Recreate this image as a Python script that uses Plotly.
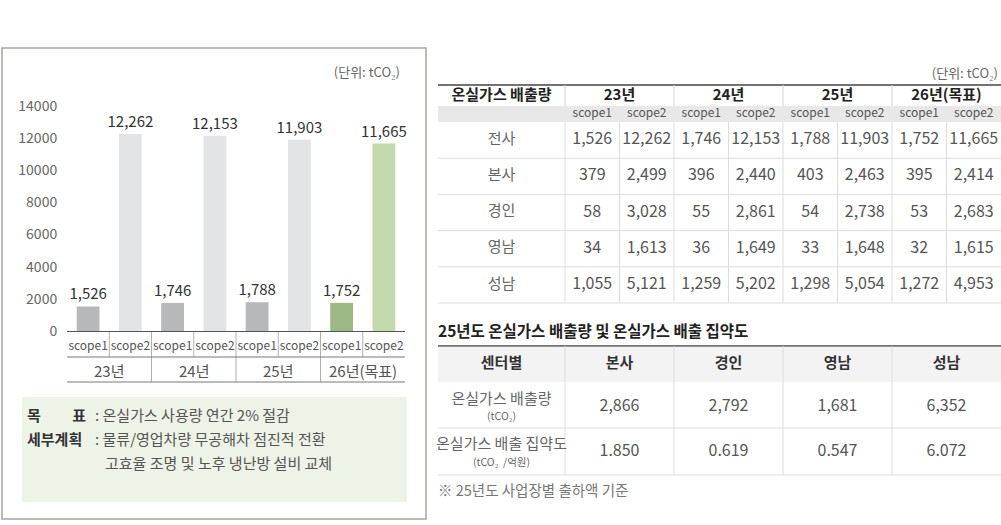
import plotly.graph_objects as go

# ---------------- data ----------------
years = ["23년", "24년", "25년", "26년(목표)"]
scopes = ["scope1", "scope2"]
scope1_total = [1526, 1746, 1788, 1752]
scope2_total = [12262, 12153, 11903, 11665]
y_ticks = [0, 2000, 4000, 6000, 8000, 10000, 12000, 14000]
unit_label = "(단위: tCO₂)"

goal_head = ["목", "표"]
plan_head = "세부계획"
goal_text = ": 온실가스 사용량 연간 2% 절감"
plan_text_1 = ": 물류/영업차량 무공해차 점진적 전환"
plan_text_2 = "고효율 조명 및 노후 냉난방 설비 교체"

t1_header = "온실가스 배출량"
sites = ["전사", "본사", "경인", "영남", "성남"]
row_jeonsa = [1526, 12262, 1746, 12153, 1788, 11903, 1752, 11665]
row_bonsa = [379, 2499, 396, 2440, 403, 2463, 395, 2414]
row_gyeongin = [58, 3028, 55, 2861, 54, 2738, 53, 2683]
row_yeongnam = [34, 1613, 36, 1649, 33, 1648, 32, 1615]
row_seongnam = [1055, 5121, 1259, 5202, 1298, 5054, 1272, 4953]

t2_title = "25년도 온실가스 배출량 및 온실가스 배출 집약도"
t2_corner = "센터별"
centers = ["본사", "경인", "영남", "성남"]
t2_rows = ["온실가스 배출량", "온실가스 배출 집약도"]
t2_units = ["(tCO₂)", "(tCO₂  /억원)"]
emission_25 = [2866, 2792, 1681, 6352]
intensity_25 = [1.850, 0.619, 0.547, 6.072]
note = "※ 25년도 사업장별 출하액 기준"

# ---------------- layout constants ----------------
W, H = 1001, 525
FONT = "Noto Sans CJK KR"

s1_colors = ["#b7b8ba", "#b7b8ba", "#b7b8ba", "#9dba86"]
s2_colors = ["#e3e4e6", "#e3e4e6", "#e3e4e6", "#c4d9ab"]

fig = go.Figure()

cats = [f"{y} {s}" for y in years for s in scopes]

for sc, vals, cols in [(scopes[0], scope1_total, s1_colors), (scopes[1], scope2_total, s2_colors)]:
    fig.add_trace(go.Bar(
        x=[f"{y} {sc}" for y in years], y=vals,
        marker=dict(color=cols, line=dict(width=0)), width=0.54,
        texttemplate="%{y:,}", textposition="outside", constraintext="none",
        textfont=dict(family=FONT, size=15, color="#333333"),
        cliponaxis=False, hoverinfo="skip", xaxis="x", yaxis="y"))


def add_text(xs, ys, texts, size, color, pos="middle center", weight="normal"):
    fig.add_trace(go.Scatter(
        x=xs, y=ys, text=texts, mode="text", textposition=pos,
        textfont=dict(family=FONT, size=size, color=color, weight=weight),
        hoverinfo="skip", showlegend=False, cliponaxis=False,
        xaxis="x2", yaxis="y2"))


shapes = []


def hline(x0, x1, y, color, width=1, xref="x2"):
    shapes.append(dict(type="line", xref=xref, yref="y2", x0=x0, x1=x1, y0=y, y1=y,
                       line=dict(color=color, width=width), layer="below"))


def vline(x, y0, y1, color, width=1, xref="x2"):
    shapes.append(dict(type="line", xref=xref, yref="y2", x0=x, x1=x, y0=y0, y1=y1,
                       line=dict(color=color, width=width), layer="below"))


def rect(x0, x1, y0, y1, fill, line_color=None, lw=0):
    shapes.append(dict(type="rect", xref="x2", yref="y2", x0=x0, x1=x1, y0=y0, y1=y1,
                       fillcolor=fill, line=dict(color=line_color or fill, width=lw),
                       layer="below"))


# ---------------- left panel ----------------
rect(2, 426, 48, 519, "rgba(0,0,0,0)", "#a3a89b", 1.5)
rect(22, 407, 397, 502, "#eef3e8")

n_cat = len(cats)
for i in range(n_cat - 1):
    vline(i + 0.5, 331, 357, "#b0b0b0", xref="x")
for k in range(1, len(years)):
    vline(2 * k - 0.5, 357, 382, "#b0b0b0", xref="x")
hline(-0.5, n_cat - 0.5, 357, "#777777", xref="x")
hline(-0.5, n_cat - 0.5, 382, "#777777", xref="x")

annotations = []
for k, yl in enumerate(years):
    annotations.append(dict(x=2 * k + 0.5, y=370, xref="x", yref="y2", text=yl,
                            showarrow=False, font=dict(family=FONT, size=15, color="#555555")))

add_text([400], [74], [unit_label], 13, "#666666", pos="middle left")

add_text([27], [417], [goal_head[0]], 15, "#333333", pos="middle right", weight="bold")
add_text([86], [417], [goal_head[1]], 15, "#333333", pos="middle left", weight="bold")
add_text([27], [441], [plan_head], 15, "#333333", pos="middle right", weight="bold")
add_text([95], [417], [goal_text], 15, "#555555", pos="middle right")
add_text([95], [441], [plan_text_1], 15, "#555555", pos="middle right")
add_text([105], [465], [plan_text_2], 15, "#555555", pos="middle right")

# ---------------- table 1 ----------------
T_L, T_R, LBL_R = 438, 1001, 565
c1w = (T_R - LBL_R) / (2 * len(years))
row_top, row_h = 122, 36.2
t1_rows = [row_jeonsa, row_bonsa, row_gyeongin, row_yeongnam, row_seongnam]

add_text([998], [75], [unit_label], 13, "#666666", pos="middle left")
hline(T_L, T_R, 85, "#444444", 1.5)
rect(T_L, T_R, 106, row_top, "#e8e8e8")
for k in range(len(years)):
    vline(LBL_R + 2 * c1w * k, 85, 106, "#d4d4d4")
for j in range(2 * len(years)):
    vline(LBL_R + c1w * j, row_top, row_top + row_h * len(sites), "#dddddd")
for r in range(len(sites)):
    hline(T_L, T_R, row_top + row_h * (r + 1), "#dddddd")

lbl_cx = (T_L + LBL_R) / 2
add_text([lbl_cx], [96], [t1_header], 15, "#222222", weight="bold")
add_text([LBL_R + c1w * (2 * k + 1) for k in range(len(years))], [96] * len(years),
         years, 15, "#222222", weight="bold")
add_text([LBL_R + c1w * (j + 0.5) for j in range(2 * len(years))], [114] * (2 * len(years)),
         scopes * len(years), 12, "#555555")
for r, (site, vals) in enumerate(zip(sites, t1_rows)):
    cy = row_top + row_h * (r + 0.5)
    add_text([lbl_cx], [cy], [site], 15, "#666666")
    add_text([LBL_R + c1w * (j + 0.5) for j in range(len(vals))], [cy] * len(vals),
             [f"{v:,}" for v in vals], 16, "#555555")

# ---------------- table 2 ----------------
c2w = (T_R - LBL_R) / len(centers)
add_text([T_L], [333], [t2_title], 15.5, "#222222", pos="middle right", weight="bold")
hline(T_L, T_R, 346, "#444444", 1.5)
rect(T_L, T_R, 346.8, 382, "#f3f3f3")
for j in range(len(centers)):
    vline(LBL_R + c2w * j, 346, 475, "#dddddd")
hline(T_L, T_R, 428, "#dddddd")
hline(T_L, T_R, 475, "#dddddd")

add_text([lbl_cx], [364], [t2_corner], 15, "#333333", weight="bold")
add_text([LBL_R + c2w * (j + 0.5) for j in range(len(centers))], [364] * len(centers),
         centers, 15, "#333333", weight="bold")
row2_y = [(400, 417, 407), (445, 463, 452)]
row2_vals = [[f"{v:,}" for v in emission_25], [f"{v:.3f}" for v in intensity_25]]
for (ly, uy, vy), lbl, unit, vals in zip(row2_y, t2_rows, t2_units, row2_vals):
    add_text([lbl_cx], [ly], [lbl], 15, "#666666")
    add_text([lbl_cx], [uy], [unit], 10.5, "#666666")
    add_text([LBL_R + c2w * (j + 0.5) for j in range(len(vals))], [vy] * len(vals),
             vals, 16, "#555555")
add_text([T_L], [492], [note], 14.5, "#777777", pos="middle right")

# ---------------- layout ----------------
fig.update_layout(
    width=W, height=H, margin=dict(l=0, r=0, t=0, b=0, pad=0, autoexpand=False),
    paper_bgcolor="white", plot_bgcolor="rgba(0,0,0,0)",
    showlegend=False, barmode="overlay",
    font=dict(family=FONT),
    shapes=shapes, annotations=annotations,
    xaxis=dict(domain=[67 / W, 405 / W], type="category",
               categoryorder="array", categoryarray=cats,
               range=[-0.5, n_cat - 0.5],
               tickmode="array", tickvals=cats, ticktext=scopes * len(years),
               tickfont=dict(family=FONT, size=12, color="#555555"),
               ticks="", ticklabelstandoff=4,
               showline=True, linecolor="#555555", linewidth=1,
               showgrid=False, zeroline=False, anchor="y", fixedrange=True),
    yaxis=dict(domain=[1 - 331 / H, 1 - 106 / H], range=[0, 14000],
               tickmode="array", tickvals=y_ticks, ticktext=[str(v) for v in y_ticks],
               tickfont=dict(family=FONT, size=14, color="#666666"),
               ticks="outside", ticklen=6, tickcolor="rgba(0,0,0,0)",
               showline=False, showgrid=False, zeroline=False, anchor="x", fixedrange=True),
    xaxis2=dict(domain=[0, 1], range=[0, W], visible=False, anchor="y2", fixedrange=True),
    yaxis2=dict(domain=[0, 1], range=[H, 0], visible=False, anchor="x2", fixedrange=True),
)

fig.write_html("out.html", config={"displayModeBar": False},
               post_script="document.body.style.margin='0';document.documentElement.style.overflow='hidden';")
